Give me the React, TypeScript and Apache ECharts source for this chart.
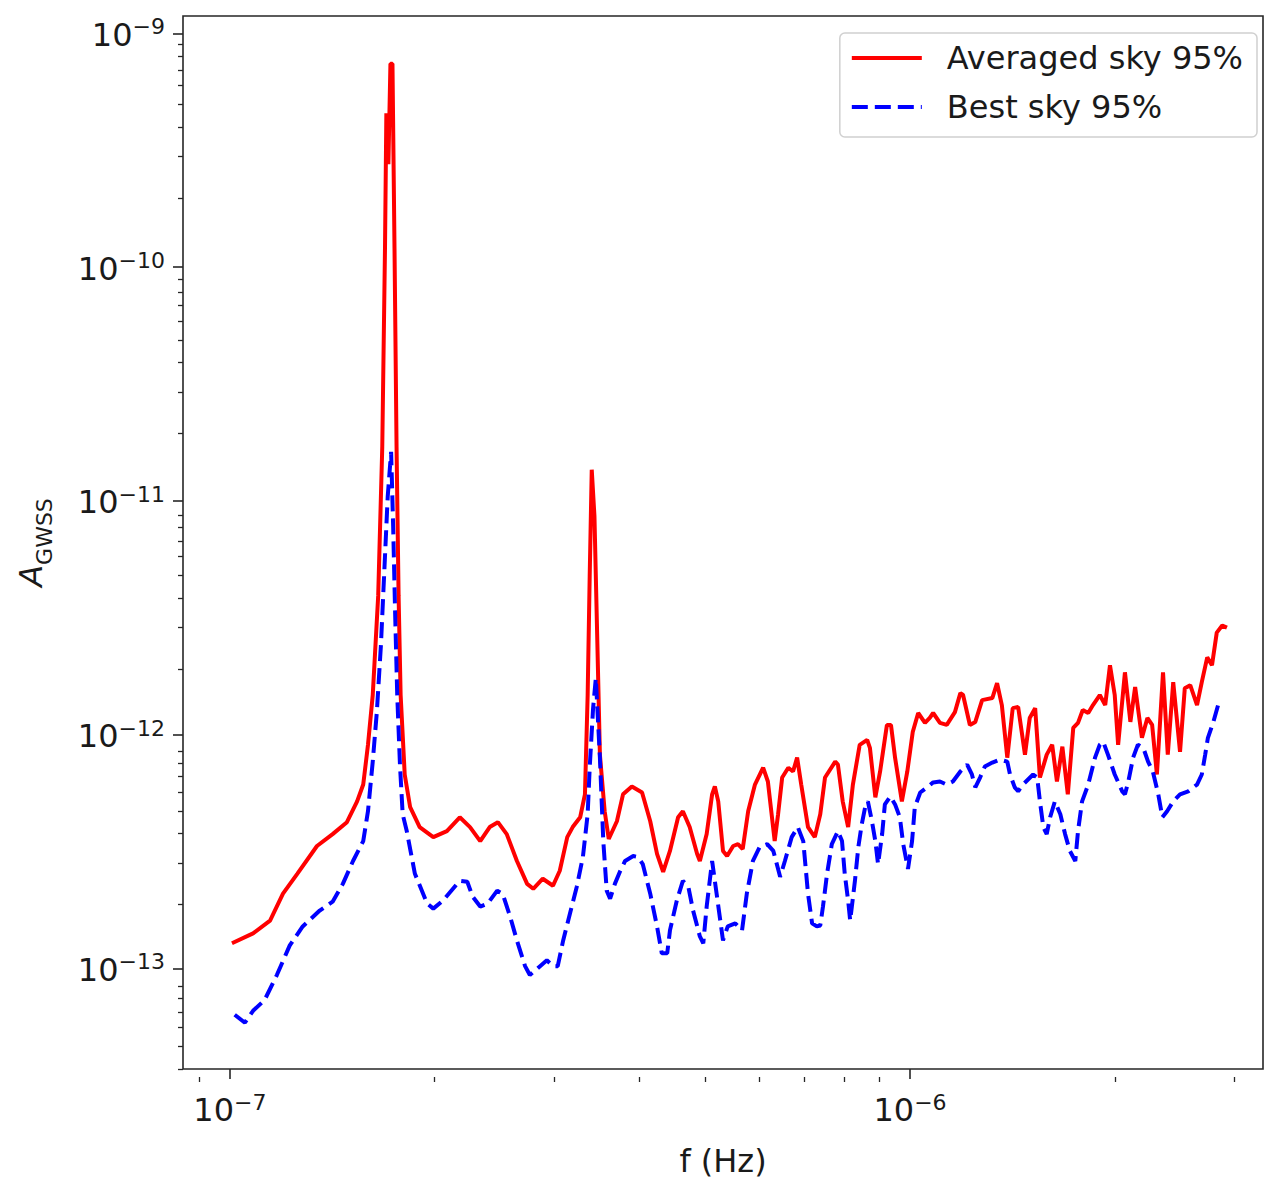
import React, { useEffect, useRef } from "react";
import * as echarts from "echarts";

// log10 of frequency (Hz) and log10 of amplitude
const logFreqAveraged = [
  -6.997, -6.966, -6.941, -6.922, -6.901, -6.872, -6.849, -6.828, -6.813, -6.804,
  -6.797, -6.790, -6.782, -6.776, -6.772, -6.770, -6.767, -6.764, -6.761, -6.758,
  -6.755, -6.752, -6.749, -6.743, -6.735, -6.721, -6.701, -6.681, -6.662, -6.647,
  -6.632, -6.618, -6.606, -6.593, -6.578, -6.563, -6.554, -6.540, -6.525, -6.515,
  -6.504, -6.496, -6.485, -6.478, -6.474, -6.471, -6.468, -6.464, -6.460, -6.456,
  -6.449, -6.443, -6.431, -6.422, -6.409, -6.394, -6.382, -6.372, -6.363, -6.353,
  -6.341, -6.334, -6.324, -6.313, -6.309, -6.299, -6.291, -6.287, -6.282, -6.275,
  -6.269, -6.260, -6.253, -6.246, -6.238, -6.228, -6.216, -6.209, -6.199, -6.194,
  -6.188, -6.179, -6.172, -6.166, -6.160, -6.150, -6.140, -6.132, -6.125, -6.110,
  -6.106, -6.099, -6.091, -6.084, -6.074, -6.063, -6.059, -6.051, -6.044, -6.034,
  -6.028, -6.022, -6.012, -6.004, -5.996, -5.988, -5.978, -5.971, -5.966, -5.956,
  -5.946, -5.934, -5.926, -5.922, -5.912, -5.904, -5.894, -5.879, -5.872, -5.865,
  -5.857, -5.849, -5.841, -5.831, -5.824, -5.816, -5.809, -5.799, -5.791, -5.784,
  -5.776, -5.768, -5.760, -5.753, -5.746, -5.738, -5.731, -5.721, -5.713, -5.706,
  -5.699, -5.694, -5.684, -5.676, -5.669, -5.659, -5.651, -5.644, -5.637, -5.628,
  -5.621, -5.613, -5.603, -5.596, -5.588, -5.578, -5.571, -5.563, -5.556, -5.549,
  -5.541, -5.534,
];
const logAmpAveraged = [
  -12.893, -12.851, -12.796, -12.681, -12.596, -12.477, -12.426, -12.375, -12.286, -12.214,
  -12.044, -11.831, -11.407, -10.769, -9.920, -9.342, -9.560, -9.130, -9.130, -9.920,
  -10.769, -11.407, -11.831, -12.171, -12.311, -12.396, -12.439, -12.413, -12.354, -12.396,
  -12.456, -12.396, -12.375, -12.426, -12.541, -12.639, -12.660, -12.617, -12.647, -12.583,
  -12.439, -12.396, -12.354, -12.256, -11.831, -11.322, -10.867, -11.067, -11.577, -12.086,
  -12.328, -12.447, -12.371, -12.256, -12.222, -12.248, -12.371, -12.511, -12.588, -12.498,
  -12.354, -12.328, -12.396, -12.511, -12.541, -12.426, -12.256, -12.222, -12.286, -12.498,
  -12.520, -12.477, -12.469, -12.490, -12.328, -12.214, -12.142, -12.201, -12.456, -12.341,
  -12.184, -12.142, -12.158, -12.099, -12.214, -12.396, -12.439, -12.341, -12.184, -12.116,
  -12.129, -12.286, -12.396, -12.214, -12.044, -12.023, -12.057, -12.269, -12.158, -11.959,
  -11.959, -12.099, -12.286, -12.158, -11.989, -11.908, -11.950, -11.929, -11.908, -11.950,
  -11.959, -11.904, -11.823, -11.831, -11.959, -11.946, -11.853, -11.844, -11.780, -11.874,
  -12.099, -11.887, -11.882, -12.086, -11.929, -11.887, -12.184, -12.086, -12.044, -12.201,
  -12.052, -12.256, -11.972, -11.950, -11.895, -11.908, -11.874, -11.831, -11.874, -11.704,
  -11.831, -12.044, -11.734, -11.946, -11.797, -12.014, -11.929, -11.959, -12.171, -11.734,
  -12.086, -11.776, -12.074, -11.802, -11.789, -11.874, -11.776, -11.670, -11.704, -11.564,
  -11.534, -11.543,
];
const logFreqBest = [
  -6.993, -6.978, -6.966, -6.949, -6.931, -6.912, -6.893, -6.868, -6.849, -6.834,
  -6.819, -6.804, -6.797, -6.790, -6.784, -6.778, -6.772, -6.768, -6.763, -6.760,
  -6.757, -6.754, -6.750, -6.746, -6.740, -6.728, -6.710, -6.701, -6.687, -6.666,
  -6.662, -6.651, -6.643, -6.632, -6.621, -6.607, -6.599, -6.588, -6.578, -6.566,
  -6.559, -6.544, -6.534, -6.525, -6.518, -6.510, -6.500, -6.490, -6.481, -6.474,
  -6.471, -6.466, -6.462, -6.456, -6.451, -6.446, -6.441, -6.434, -6.426, -6.419,
  -6.407, -6.400, -6.393, -6.382, -6.372, -6.365, -6.357, -6.353, -6.343, -6.334,
  -6.326, -6.319, -6.309, -6.304, -6.299, -6.291, -6.287, -6.279, -6.275, -6.268,
  -6.257, -6.247, -6.240, -6.231, -6.221, -6.210, -6.201, -6.191, -6.184, -6.174,
  -6.165, -6.157, -6.150, -6.144, -6.137, -6.132, -6.128, -6.122, -6.115, -6.106,
  -6.100, -6.096, -6.091, -6.088, -6.081, -6.076, -6.071, -6.066, -6.062, -6.056,
  -6.051, -6.047, -6.041, -6.037, -6.029, -6.022, -6.015, -6.010, -6.003, -5.997,
  -5.993, -5.985, -5.975, -5.966, -5.956, -5.946, -5.937, -5.926, -5.916, -5.909,
  -5.904, -5.897, -5.890, -5.879, -5.868, -5.857, -5.853, -5.846, -5.841, -5.834,
  -5.819, -5.813, -5.809, -5.804, -5.799, -5.794, -5.787, -5.779, -5.772, -5.765,
  -5.757, -5.753, -5.747, -5.738, -5.728, -5.721, -5.716, -5.709, -5.699, -5.688,
  -5.684, -5.679, -5.672, -5.665, -5.657, -5.650, -5.643, -5.635, -5.629, -5.622,
  -5.613, -5.603, -5.591, -5.578, -5.571, -5.566, -5.562, -5.554, -5.547,
];
const logAmpBest = [
  -13.199, -13.233, -13.182, -13.136, -13.029, -12.902, -12.821, -12.753, -12.715, -12.639,
  -12.541, -12.456, -12.328, -12.116, -11.904, -11.619, -11.237, -10.982, -10.791, -11.109,
  -11.492, -11.831, -12.129, -12.341, -12.413, -12.596, -12.723, -12.745, -12.711, -12.639,
  -12.626, -12.630, -12.694, -12.736, -12.723, -12.668, -12.681, -12.779, -12.881, -12.991,
  -13.029, -12.991, -12.966, -12.991, -12.991, -12.881, -12.766, -12.651, -12.524, -12.341,
  -12.142, -11.887, -11.759, -12.099, -12.456, -12.668, -12.702, -12.639, -12.583, -12.541,
  -12.520, -12.524, -12.554, -12.681, -12.821, -12.936, -12.936, -12.838, -12.711, -12.626,
  -12.651, -12.753, -12.864, -12.893, -12.736, -12.541, -12.626, -12.796, -12.881, -12.821,
  -12.808, -12.838, -12.681, -12.541, -12.481, -12.469, -12.498, -12.609, -12.541, -12.439,
  -12.396, -12.456, -12.681, -12.808, -12.821, -12.817, -12.736, -12.596, -12.469, -12.413,
  -12.456, -12.596, -12.711, -12.796, -12.626, -12.481, -12.384, -12.311, -12.286, -12.371,
  -12.456, -12.554, -12.426, -12.299, -12.265, -12.299, -12.354, -12.469, -12.575, -12.456,
  -12.311, -12.248, -12.226, -12.205, -12.201, -12.214, -12.201, -12.158, -12.129, -12.171,
  -12.226, -12.184, -12.137, -12.120, -12.107, -12.116, -12.171, -12.226, -12.243, -12.214,
  -12.171, -12.184, -12.286, -12.396, -12.426, -12.354, -12.286, -12.341, -12.426, -12.498,
  -12.541, -12.413, -12.286, -12.214, -12.099, -12.044, -12.031, -12.086, -12.171, -12.243,
  -12.256, -12.201, -12.099, -12.044, -12.057, -12.116, -12.158, -12.256, -12.354, -12.328,
  -12.286, -12.256, -12.243, -12.214, -12.171, -12.086, -12.014, -11.946, -11.874,
];

const xMajorTicks = [-7, -6];
const yMajorTicks = [-13, -12, -11, -10, -9];
const xLabelName = "f (Hz)";
const seriesNames = ["Averaged sky 95%", "Best sky 95%"];

const X_MIN = -7.069;
const X_MAX = -5.481;
const Y_MIN = -13.431;
const Y_MAX = -8.926;

function minorTicks(lo: number, hi: number): number[] {
  const out: number[] = [];
  for (let d = Math.floor(lo) - 1; d <= Math.ceil(hi); d++) {
    for (let k = 2; k <= 9; k++) {
      const v = d + Math.log10(k);
      if (v > lo && v < hi) out.push(v);
    }
  }
  return out;
}

const FONT = "DejaVu Sans";
const TXT = "#1a1a1a";
const AX = "#262626";
const FS = 32;
const FS_SUP = 22;

const powLabel = (v: number) => `{b|10}{s|\u2212${Math.round(-v)}}`;
const powRich = {
  b: { fontSize: FS, fontFamily: FONT, color: TXT, verticalAlign: "bottom" },
  s: { fontSize: FS_SUP, fontFamily: FONT, color: TXT, verticalAlign: "bottom", padding: [0, 0, 13, 0] },
};

export default function App() {
  const ref = useRef<HTMLDivElement>(null);
  useEffect(() => {
    if (!ref.current) return;
    const chart = echarts.init(ref.current, undefined, { renderer: "svg" });
    const grid = { left: 183, top: 16, width: 1080, height: 1061 };
    const xMinor = minorTicks(X_MIN, X_MAX);
    const yMinor = minorTicks(Y_MIN, Y_MAX);
    chart.setOption({
      animation: false,
      backgroundColor: "#ffffff",
      grid: [
        { ...grid, show: true, borderColor: AX, borderWidth: 1.6, backgroundColor: "transparent" },
        { ...grid, show: false },
      ],
      legend: {
        right: 8,
        top: 33,
        orient: "vertical",
        itemWidth: 70,
        itemHeight: 14,
        itemGap: 11,
        padding: [6, 14, 11, 10],
        borderColor: "#d0d0d0",
        borderWidth: 1.5,
        borderRadius: 5,
        backgroundColor: "rgba(255,255,255,0.8)",
        itemStyle: { opacity: 0, borderWidth: 0 },
        lineStyle: { width: 4 },
        textStyle: { fontFamily: FONT, fontSize: FS, color: TXT, padding: [0, 0, 0, 20], lineHeight: 38 },
        data: seriesNames,
      },
      xAxis: [
        {
          type: "value",
          gridIndex: 0,
          min: X_MIN,
          max: X_MAX,
          splitLine: { show: false },
          axisLine: { show: false },
          axisTick: { show: true, customValues: xMajorTicks, length: 10, lineStyle: { color: AX, width: 1.6 } },
          axisLabel: { customValues: xMajorTicks, formatter: powLabel, rich: powRich, margin: 22 },
          name: xLabelName,
          nameLocation: "middle",
          nameGap: 76,
          nameTextStyle: { fontFamily: FONT, fontSize: FS, color: TXT },
        },
        {
          type: "value",
          gridIndex: 1,
          min: X_MIN,
          max: X_MAX,
          splitLine: { show: false },
          axisLine: { show: false },
          axisTick: { show: true, customValues: xMinor, length: 5, lineStyle: { color: AX, width: 1.3 } },
          axisLabel: { show: false },
        },
      ],
      yAxis: [
        {
          type: "value",
          gridIndex: 0,
          min: Y_MIN,
          max: Y_MAX,
          splitLine: { show: false },
          axisLine: { show: false },
          axisTick: { show: true, customValues: yMajorTicks, length: 10, lineStyle: { color: AX, width: 1.6 } },
          axisLabel: { customValues: yMajorTicks, formatter: powLabel, rich: powRich, margin: 18 },
          name: "{i|A}{g|GWSS}",
          nameLocation: "middle",
          nameGap: 128,
          nameRotate: 90,
          nameTextStyle: {
            rich: {
              i: { fontSize: FS, fontFamily: FONT, fontStyle: "italic", color: TXT, verticalAlign: "bottom", padding: [0, 0, 8, 0] },
              g: { fontSize: FS_SUP, fontFamily: FONT, color: TXT, verticalAlign: "bottom" },
            },
          },
        },
        {
          type: "value",
          gridIndex: 1,
          min: Y_MIN,
          max: Y_MAX,
          splitLine: { show: false },
          axisLine: { show: false },
          axisTick: { show: true, customValues: yMinor, length: 5, lineStyle: { color: AX, width: 1.3 } },
          axisLabel: { show: false },
        },
      ],
      series: [
        {
          name: seriesNames[0],
          type: "line",
          xAxisIndex: 0,
          yAxisIndex: 0,
          symbol: "none",
          showSymbol: false,
          clip: true,
          lineStyle: { color: "#ff0000", width: 4 },
          itemStyle: { color: "#ff0000" },
          data: logFreqAveraged.map((f, i) => [f, logAmpAveraged[i]]),
          z: 2,
        },
        {
          name: seriesNames[1],
          type: "line",
          xAxisIndex: 0,
          yAxisIndex: 0,
          symbol: "none",
          showSymbol: false,
          clip: true,
          lineStyle: { color: "#0000ff", width: 4, type: [16, 7] },
          itemStyle: { color: "#0000ff" },
          data: logFreqBest.map((f, i) => [f, logAmpBest[i]]),
          z: 3,
        },
      ],
    });
    return () => chart.dispose();
  }, []);
  return (
    <div
      ref={ref}
      style={{ position: "fixed", left: 0, top: 0, width: 1265, height: 1182, background: "#fff" }}
    />
  );
}
